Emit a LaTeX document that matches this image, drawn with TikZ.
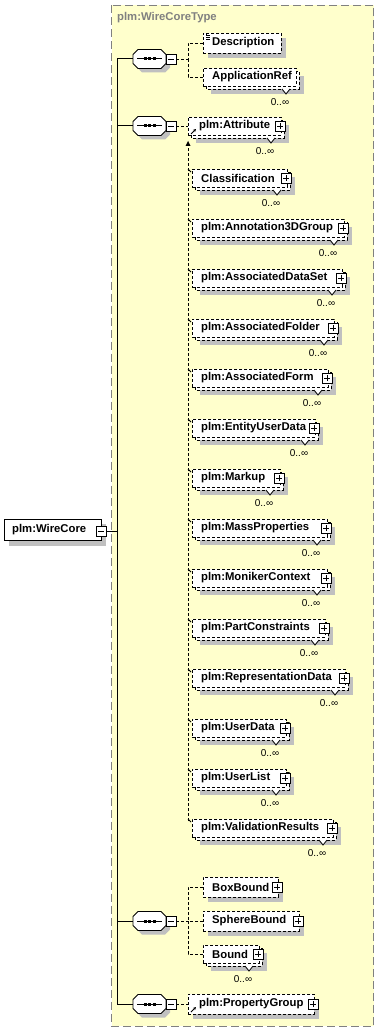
\documentclass[tikz,border=0pt]{standalone}
\usepackage{fontspec}
\setmainfont{Liberation Sans}
\usetikzlibrary{arrows.meta}
\definecolor{bgyellow}{RGB}{255,255,204}
\definecolor{shadowgray}{RGB}{192,192,192}
\definecolor{framegray}{RGB}{128,128,128}
\tikzset{
  ebox/.style={draw=black, fill=white, line width=0.9pt, dash pattern=on 3pt off 2pt, inner sep=0pt, anchor=west},
  rbox/.style={draw=black, fill=white, line width=0.9pt, inner sep=0pt, anchor=west},
  lbl/.style={font=\fontsize{11.3}{13}\selectfont\bfseries, anchor=west, inner sep=0pt},
  mult/.style={font=\fontsize{10}{11}\selectfont, inner sep=0pt},
  conn/.style={line width=0.9pt, dash pattern=on 3pt off 2pt},
  trunk/.style={line width=1pt},
  btn/.style={draw=black, fill=white, line width=0.8pt, minimum size=10pt, inner sep=0pt},
  seqbox/.style={draw=none, minimum width=33pt, minimum height=19pt, inner sep=0pt},
}
% plus button
\newcommand{\plusb}[3]{%
  \node[btn] (#1) at (#2,#3) {};
  \draw[line width=0.8pt] ([xshift=-3pt]#1.center) -- ([xshift=3pt]#1.center)
       ([yshift=-3pt]#1.center) -- ([yshift=3pt]#1.center);
}
\newcommand{\minusb}[3]{%
  \node[btn] (#1) at (#2,#3) {};
  \draw[line width=0.8pt] ([xshift=-3pt]#1.center) -- ([xshift=3pt]#1.center);
}
% single element: name, L, yc, R, text
\newcommand{\singleel}[5]{%
  \fill[shadowgray] ({#2+5},{#3-5}) rectangle ({#4+5},{#3+15});
  \node[ebox, minimum width={#4-#2}, minimum height=20] (#1) at (#2,#3) {};
  \node[lbl] (#1-t) at ({#2+9},#3) {#5};
}
% multi element: name, L, yc, R, text
\newcommand{\multiel}[5]{%
  \fill[shadowgray] ({#2+8},{#3-1}) rectangle ({#4+8},{#3+17});
  \draw[line width=0.9pt, dash pattern=on 3pt off 2pt, fill=white] ({#2+3},{#3-6}) rectangle ({#4+3},{#3+12});
  \node[ebox, minimum width={#4-#2}, minimum height=18] (#1) at (#2,{#3}) {};
  \fill[white] ({#4-14},{#3+12}) -- ({#4-10},{#3+17}) -- ({#4-6},{#3+12}) -- cycle;
  \draw[line width=0.8pt] ({#4-14},{#3+12}) -- ({#4-10},{#3+17}) -- ({#4-6},{#3+12});
  \node[lbl] (#1-t) at ({#2+9},#3) {#5};
  \node[mult] (#1-m) at ({#4-16},{#3+25}) {0..∞};
}
% sequence compositor: name, yc
\newcommand{\seqn}[2]{%
  \fill[shadowgray] (137,{#2-0.5}) -- (142,{#2-5.5}) -- (165,{#2-5.5}) -- (170,{#2-0.5})
     -- (170,{#2+8.5}) -- (165,{#2+13.5}) -- (142,{#2+13.5}) -- (137,{#2+8.5}) -- cycle;
  \node[seqbox] (#1) at (149.5,#2) {};
  \draw[fill=white, line width=0.9pt] (133,{#2-4.5}) -- (138,{#2-9.5}) -- (161,{#2-9.5}) -- (166,{#2-4.5})
     -- (166,{#2+4.5}) -- (161,{#2+9.5}) -- (138,{#2+9.5}) -- (133,{#2+4.5}) -- cycle;
  \draw[line width=1pt] (137,#2) -- (162,#2);
  \fill (143.5,{#2-1.5}) rectangle (146.5,{#2+1.5});
  \fill (148,{#2-1.5}) rectangle (151,{#2+1.5});
  \fill (152.5,{#2-1.5}) rectangle (155.5,{#2+1.5});
  \minusb{#1-b}{171}{#2}
}
\begin{document}
\begin{tikzpicture}[x=1pt,y=-1pt]
\useasboundingbox (0,0) rectangle (380,1032);
% type frame
\draw[framegray, line width=1pt, dash pattern=on 8pt off 4pt, fill=bgyellow] (111.5,5.5) rectangle (373.5,1026);
\node[anchor=west, inner sep=0pt, font=\fontsize{11.3}{13}\selectfont\bfseries, text=framegray] (title) at (117,18) {plm:WireCoreType};

% root element
\fill[shadowgray] (9,524) rectangle (106,546);
\node[rbox, minimum width=97, minimum height=21] (root) at (4,530) {};
\node[lbl] (root-t) at (12,530) {plm:WireCore};
\minusb{root-b}{101}{531}

% trunk coordinates
\coordinate (tj) at (117,531);
\coordinate (t1) at (117,59);
\coordinate (t2) at (117,126);
\coordinate (t3) at (117,921);
\coordinate (t4) at (117,1004);

% sequences
\seqn{s1}{59}
\seqn{s2}{126}
\seqn{s3}{921}
\seqn{s4}{1004}

\draw[trunk] (root-b.east) -- (tj);
\draw[trunk] (s1.west) -- (t1) -- (t4) -- (s4.west);
\draw[trunk] (t2) -- (s2.west);
\draw[trunk] (t3) -- (s3.west);

% sequence 1 children
\singleel{desc}{203}{43}{281}{Description}
\draw[line width=0.6pt] (206,35.5) -- (210,35.5) (206,37.5) -- (210,37.5) (206,39.5) -- (210,39.5);
\draw[line width=0.6pt] (206,34.5) -- (206,35.5);
\multiel{appref}{203}{77}{296}{ApplicationRef}
\coordinate (b1) at (188,59);
\draw[conn] (s1-b.east) -- (b1);
\draw[conn] (desc.west) -| (b1);
\draw[conn] (appref.west) -| (b1);

% sequence 2: plm:Attribute and its substitution group
\multiel{attr}{188}{126}{281}{\hspace{2pt}plm:Attribute}
\plusb{attr-p}{280}{126}
\draw[line width=0.8pt, -{Stealth[length=3pt,width=3pt]}] (191,134) -- (196,129);
\draw[conn] (s2-b.east) -- (attr.west);

\coordinate (subtop) at (188,141);
\coordinate (subbot) at (188,821);
\draw[conn] (subbot) -- (subtop);
\fill (subtop) -- (185.5,146) -- (190.5,146) -- cycle;

\foreach \n/\t/\i/\r in {
  cls/Classification/0/287,
  a3d/plm:Annotation3DGroup/1/344,
  ads/plm:AssociatedDataSet/2/342,
  afo/plm:AssociatedFolder/3/334,
  afm/plm:AssociatedForm/4/328,
  eud/plm:EntityUserData/5/315,
  mku/plm:Markup/6/280,
  mas/plm:MassProperties/7/327,
  mon/plm:MonikerContext/8/327,
  pcs/plm:PartConstraints/9/325,
  rep/plm:RepresentationData/10/345,
  usd/plm:UserData/11/286,
  usl/plm:UserList/12/286,
  val/plm:ValidationResults/13/333}{
  \pgfmathsetmacro\yc{178+50*\i}
  \multiel{\n}{192}{\yc}{\r}{\t}
  \plusb{\n-p}{\r-1}{\yc}
  \draw[line width=0.8pt] (188,{\yc-9}) -- (191,{\yc-6});
}

% sequence 3 children
\singleel{boxb}{203}{887}{278}{BoxBound}
\plusb{boxb-p}{277}{887}
\singleel{sphb}{203}{921}{299}{SphereBound}
\plusb{sphb-p}{298}{921}
\multiel{bound}{203}{954}{259}{Bound}
\plusb{bound-p}{258}{954}
\coordinate (b3) at (188,921);
\draw[conn] (s3-b.east) -- (b3);
\draw[conn] (boxb.west) -| (b3);
\draw[conn] (sphb.west) -- (b3);
\draw[conn] (bound.west) -| (b3);

% sequence 4 child
\singleel{pg}{188}{1004}{314}{\hspace{2pt}plm:PropertyGroup}
\plusb{pg-p}{313}{1004}
\draw[line width=0.8pt, -{Stealth[length=3pt,width=3pt]}] (191,1012) -- (196,1007);
\draw[conn] (s4-b.east) -- (pg.west);
\end{tikzpicture}
\end{document}
